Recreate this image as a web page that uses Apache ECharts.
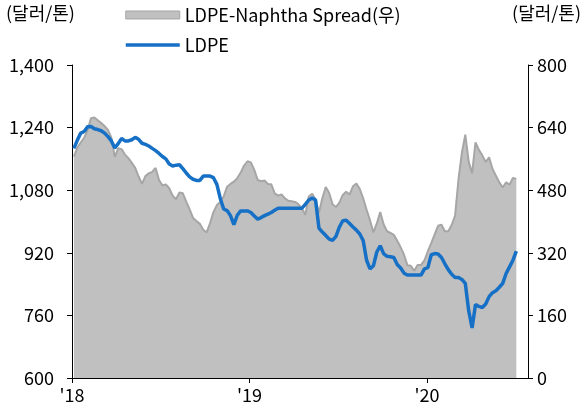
<!DOCTYPE html>
<html><head><meta charset="utf-8">
<script src="https://cdn.jsdelivr.net/npm/echarts@6/dist/echarts.min.js"></script>
<style>html,body{margin:0;padding:0;background:#fff}#c{width:585px;height:408px}</style>
</head><body><div id="c"></div>
<script>
// weekly observations starting 2018-01-05; x measured in days since 2018-01-01
const axisStartDate = Date.UTC(2018, 0, 1);
const axisEndDate = Date.UTC(2020, 6, 27);
const firstWeekDate = Date.UTC(2018, 0, 5);
const weekCount = 131;
const tickYears = [2018, 2019, 2020];
const tickLabels = ["'18", "'19", "'20"];
const seriesNames = ['LDPE-Naphtha Spread(우)', 'LDPE'];
const unitLabel = '(달러/톤)';

const ldpe = [1187,1208,1226,1230,1242,1243,1237,1235,1232,1226,
  1217,1206,1188,1199,1212,1206,1206,1209,1215,1210,
  1200,1197,1193,1187,1181,1174,1166,1160,1147,1142,
  1144,1145,1135,1124,1114,1108,1105,1105,1116,1116,
  1116,1112,1095,1059,1032,1028,1015,992,1016,1027,
  1027,1027,1023,1014,1006,1010,1015,1019,1023,1029,
  1034,1034,1034,1034,1034,1034,1034,1034,1044,1055,
  1060,1055,983,973,964,955,952,962,986,1002,
  1003,995,986,978,968,951,901,879,887,922,
  938,918,911,910,908,890,881,868,863,863,
  863,863,863,879,882,915,918,917,908,892,
  877,865,857,857,852,842,772,728,788,783,
  780,789,808,818,823,832,842,867,884,901,924];

const spread = [566,589,602,614,633,664,666,659,652,644,
  634,614,565,587,585,571,562,550,537,515,
  496,516,523,527,537,506,492,495,485,466,
  457,474,472,451,431,409,401,394,379,372,
  396,424,442,450,464,489,496,502,511,525,
  543,554,551,532,506,503,505,496,495,472,
  466,469,459,453,452,450,444,433,417,464,
  471,456,422,460,488,473,444,437,448,468,
  476,469,490,497,483,459,430,403,372,395,
  424,393,375,371,366,351,334,315,288,287,
  274,289,289,301,324,345,367,389,392,375,
  375,391,415,508,576,622,553,523,602,583,
  569,552,564,534,517,500,487,500,494,511,509];

const leftAxis = {min: 600, max: 1400, step: 160};
const rightAxis = {min: 0, max: 800, step: 160};

const DAY = 86400000;
const toDay = ts => (ts - axisStartDate) / DAY;
const days = [];
for (let i = 0; i < weekCount; i++) days.push(toDay(firstWeekDate) + 7 * i);
const yearDays = tickYears.map(y => toDay(Date.UTC(y, 0, 1)));
const FONT = 'Noto Sans CJK KR';

const chart = echarts.init(document.getElementById('c'), null, {renderer: 'canvas'});
chart.setOption({
  animation: false,
  textStyle: {fontFamily: FONT},
  grid: {left: 72, right: 57, top: 65, bottom: 30, containLabel: false},
  legend: {
    orient: 'vertical', left: 119, top: 1, itemWidth: 54, itemHeight: 8, itemGap: 12,
    textStyle: {fontSize: 18, color: '#000', fontFamily: FONT},
    data: [
      {name: seriesNames[0], icon: 'rect', itemStyle: {color: '#c0c0c0', borderColor: '#a6a6a6', borderWidth: 1}},
      {name: seriesNames[1], itemStyle: {opacity: 0}, lineStyle: {color: '#1670c6', width: 3.5}}
    ]
  },
  graphic: [
    {type: 'text', left: 6, top: 4, style: {text: unitLabel, fontSize: 18, fill: '#000', fontFamily: FONT}},
    {type: 'text', right: 4, top: 4, style: {text: unitLabel, fontSize: 18, fill: '#000', fontFamily: FONT}}
  ],
  xAxis: {
    type: 'value',
    min: 0,
    max: toDay(axisEndDate),
    axisLine: {show: true, onZero: false, lineStyle: {color: '#000', width: 1}},
    axisTick: {show: true, length: 5, customValues: yearDays, lineStyle: {color: '#000'}},
    axisLabel: {
      customValues: yearDays, fontSize: 18, color: '#000', margin: 8, fontFamily: FONT,
      formatter: v => tickLabels[yearDays.indexOf(v)] || ''
    },
    splitLine: {show: false}
  },
  yAxis: [
    {
      type: 'value', min: leftAxis.min, max: leftAxis.max, interval: leftAxis.step,
      axisLine: {show: true, lineStyle: {color: '#000', width: 1}},
      axisTick: {show: true, length: 5, lineStyle: {color: '#000'}},
      axisLabel: {fontSize: 18, color: '#000', margin: 18, fontFamily: FONT,
        formatter: v => v.toLocaleString('en-US')},
      splitLine: {show: false}
    },
    {
      type: 'value', position: 'right', min: rightAxis.min, max: rightAxis.max, interval: rightAxis.step,
      axisLine: {show: true, lineStyle: {color: '#000', width: 1}},
      axisTick: {show: true, length: 5, lineStyle: {color: '#000'}},
      axisLabel: {fontSize: 18, color: '#000', margin: 9, fontFamily: FONT},
      splitLine: {show: false}
    }
  ],
  series: [
    {
      name: seriesNames[0], type: 'line', yAxisIndex: 1, symbol: 'none', z: 1,
      data: days.map((d, i) => [d, spread[i]]),
      itemStyle: {color: '#c0c0c0'},
      lineStyle: {color: '#a6a6a6', width: 2},
      areaStyle: {color: '#c0c0c0', opacity: 1}
    },
    {
      name: seriesNames[1], type: 'line', yAxisIndex: 0, symbol: 'none', z: 3,
      data: days.map((d, i) => [d, ldpe[i]]),
      itemStyle: {color: '#1670c6'},
      lineStyle: {color: '#1670c6', width: 3.5}
    }
  ]
});
</script></body></html>
